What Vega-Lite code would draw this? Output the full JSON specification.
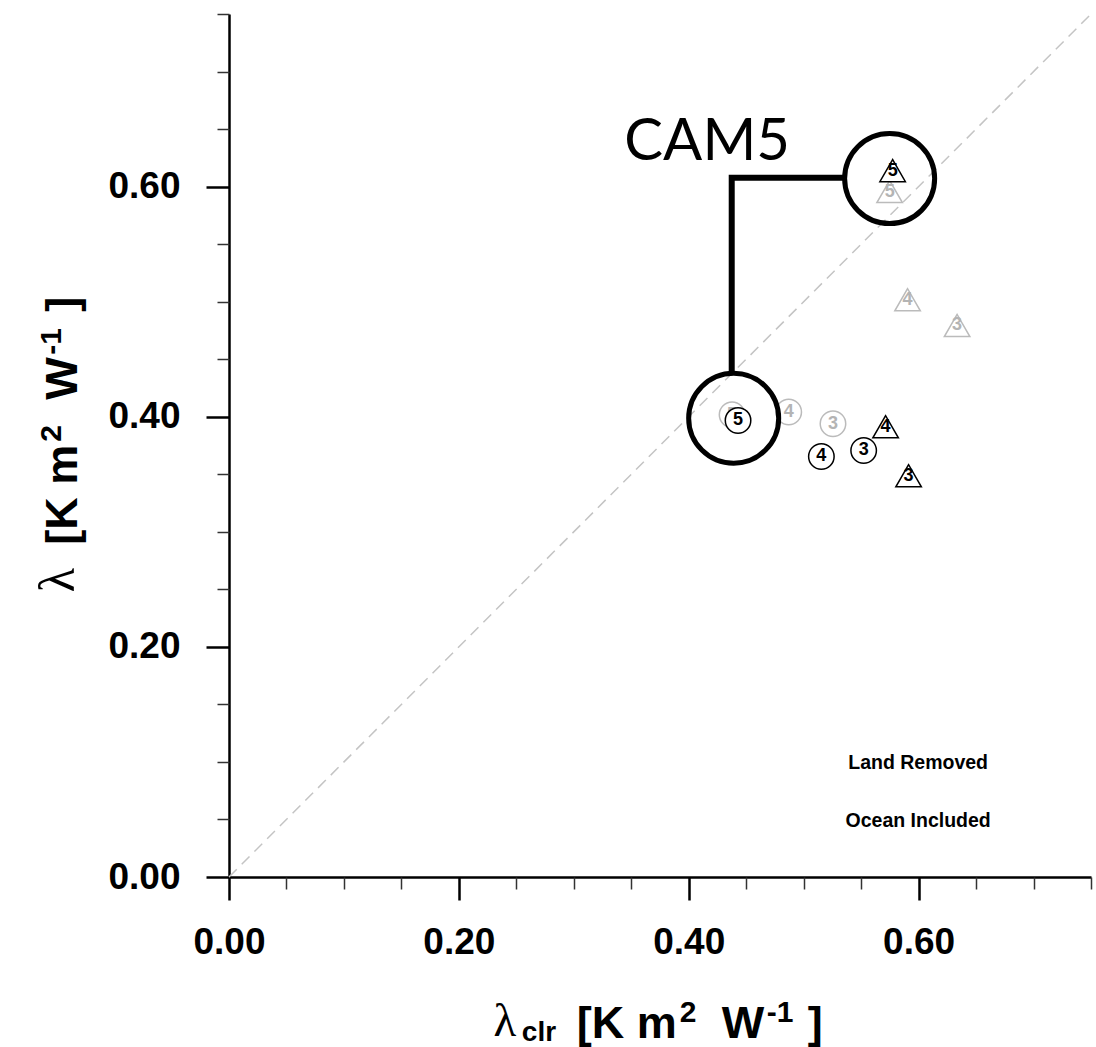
{
  "$schema": "https://vega.github.io/schema/vega-lite/v6.json",
  "width": 862,
  "height": 863,
  "autosize": {"type": "none"},
  "padding": {"left": 229, "top": 14, "right": 5, "bottom": 170},
  "background": "white",
  "config": {"view": {"stroke": null}, "axis": {"grid": false}},
  "datasets": {
    "diag": [{"x": 0, "y": 0}, {"x": 0.75, "y": 0.75}],
    "leader": [
      {"x": 0.4374, "y": 0.4391, "o": 1},
      {"x": 0.4374, "y": 0.6078, "o": 2},
      {"x": 0.5357, "y": 0.6078, "o": 3}
    ],
    "big": [{"x": 0.5748, "y": 0.607}, {"x": 0.4391, "y": 0.3987}],
    "pts": [
      {"set": "grey", "shape": "triangle-up", "label": "5", "x": 0.5748, "y": 0.5957},
      {"set": "grey", "shape": "triangle-up", "label": "4", "x": 0.5904, "y": 0.5017},
      {"set": "grey", "shape": "triangle-up", "label": "3", "x": 0.6335, "y": 0.4793},
      {"set": "grey", "shape": "circle", "label": "5", "x": 0.4377, "y": 0.4017},
      {"set": "grey", "shape": "circle", "label": "4", "x": 0.487, "y": 0.4041},
      {"set": "grey", "shape": "circle", "label": "3", "x": 0.5255, "y": 0.3939},
      {"set": "black", "shape": "triangle-up", "label": "5", "x": 0.5774, "y": 0.6139},
      {"set": "black", "shape": "triangle-up", "label": "4", "x": 0.5713, "y": 0.3913},
      {"set": "black", "shape": "triangle-up", "label": "3", "x": 0.5913, "y": 0.3487},
      {"set": "black", "shape": "circle", "label": "5", "x": 0.4429, "y": 0.3968},
      {"set": "black", "shape": "circle", "label": "4", "x": 0.5154, "y": 0.3655},
      {"set": "black", "shape": "circle", "label": "3", "x": 0.5522, "y": 0.3707}
    ],
    "xtitleMain": [
      {"t": "[K m", "x": 0.3026, "y": -0.14},
      {"t": "W", "x": 0.4287, "y": -0.14},
      {"t": "]", "x": 0.5035, "y": -0.14}
    ],
    "xtitleSup": [
      {"t": "2", "x": 0.3922, "y": -0.1261},
      {"t": "-1", "x": 0.4678, "y": -0.1261}
    ],
    "ytitleMain": [
      {"t": "[K m", "x": -0.132, "y": 0.2887},
      {"t": "W", "x": -0.132, "y": 0.4148},
      {"t": "]", "x": -0.132, "y": 0.4913}
    ],
    "ytitleSup": [
      {"t": "2", "x": -0.1461, "y": 0.3783},
      {"t": "-1", "x": -0.1461, "y": 0.4539}
    ]
  },
  "resolve": {"axis": {"x": "independent", "y": "independent"}},
  "layer": [
    {
      "data": {"name": "diag"},
      "mark": {"type": "line", "color": "#c4c4c4", "strokeWidth": 1.5, "strokeDash": [11, 7]},
      "encoding": {
        "x": {"field": "x", "type": "quantitative", "scale": {"domain": [0, 0.75], "nice": false, "zero": false},
          "axis": {"orient": "bottom", "values": [0, 0.2, 0.4, 0.6], "format": ".2f", "title": null, "tickSize": 23, "tickWidth": 2.5, "tickColor": "black", "domainColor": "black", "domainWidth": 2.5, "labelFont": "Liberation Sans", "labelFontSize": 37, "labelFontWeight": "bold", "labelColor": "black", "labelPadding": 24, "labelFlush": false, "labelOverlap": false, "grid": false}},
        "y": {"field": "y", "type": "quantitative", "scale": {"domain": [0, 0.75], "nice": false, "zero": false},
          "axis": {"orient": "left", "values": [0, 0.2, 0.4, 0.6], "format": ".2f", "title": null, "tickSize": 23, "tickWidth": 2.5, "tickColor": "black", "domainColor": "black", "domainWidth": 2.5, "labelFont": "Liberation Sans", "labelFontSize": 37, "labelFontWeight": "bold", "labelColor": "black", "labelPadding": 26, "labelFlush": false, "labelOverlap": false, "grid": false}}
      }
    },
    {
      "data": {"name": "leader"},
      "mark": {"type": "line", "color": "black", "strokeWidth": 6, "strokeJoin": "miter", "strokeCap": "butt"},
      "encoding": {
        "x": {"field": "x", "type": "quantitative",
          "axis": {"orient": "bottom", "values": [0.05, 0.1, 0.15, 0.25, 0.3, 0.35, 0.45, 0.5, 0.55, 0.65, 0.7, 0.75], "labels": false, "domain": false, "tickSize": 12, "tickWidth": 1.5, "tickColor": "#333333", "title": null, "grid": false}},
        "y": {"field": "y", "type": "quantitative",
          "axis": {"orient": "left", "values": [0.05, 0.1, 0.15, 0.25, 0.3, 0.35, 0.45, 0.5, 0.55, 0.65, 0.7, 0.75], "labels": false, "domain": false, "tickSize": 12, "tickWidth": 1.5, "tickColor": "#333333", "title": null, "grid": false}},
        "order": {"field": "o", "type": "quantitative"}
      }
    },
    {
      "data": {"name": "pts"},
      "transform": [{"filter": "datum.set === 'grey'"}],
      "mark": {"type": "point", "filled": false, "fill": "white", "fillOpacity": 1, "stroke": "#bbbbbb", "strokeWidth": 1.5, "size": 650, "opacity": 1},
      "encoding": {
        "x": {"field": "x", "type": "quantitative", "axis": null},
        "y": {"field": "y", "type": "quantitative", "axis": null},
        "shape": {"field": "shape", "type": "nominal", "scale": null, "legend": null}
      }
    },
    {
      "data": {"name": "pts"},
      "transform": [{"filter": "datum.set === 'grey'"}],
      "mark": {"type": "text", "color": "#b4b4b4", "font": "Liberation Sans", "fontSize": 18, "fontWeight": "bold", "align": "center", "baseline": "middle"},
      "encoding": {
        "x": {"field": "x", "type": "quantitative", "axis": null},
        "y": {"field": "y", "type": "quantitative", "axis": null},
        "text": {"field": "label", "type": "nominal"}
      }
    },
    {
      "data": {"name": "pts"},
      "transform": [{"filter": "datum.set === 'black'"}],
      "mark": {"type": "point", "filled": false, "fill": "white", "fillOpacity": 1, "stroke": "black", "strokeWidth": 1.5, "size": 650, "opacity": 1},
      "encoding": {
        "x": {"field": "x", "type": "quantitative", "axis": null},
        "y": {"field": "y", "type": "quantitative", "axis": null},
        "shape": {"field": "shape", "type": "nominal", "scale": null, "legend": null}
      }
    },
    {
      "data": {"name": "pts"},
      "transform": [{"filter": "datum.set === 'black'"}],
      "mark": {"type": "text", "color": "black", "font": "Liberation Sans", "fontSize": 18, "fontWeight": "bold", "align": "center", "baseline": "middle"},
      "encoding": {
        "x": {"field": "x", "type": "quantitative", "axis": null},
        "y": {"field": "y", "type": "quantitative", "axis": null},
        "text": {"field": "label", "type": "nominal"}
      }
    },
    {
      "data": {"name": "big"},
      "mark": {"type": "point", "shape": "circle", "filled": false, "stroke": "black", "strokeWidth": 5, "size": 8100, "opacity": 1},
      "encoding": {
        "x": {"field": "x", "type": "quantitative", "axis": null},
        "y": {"field": "y", "type": "quantitative", "axis": null}
      }
    },
    {
      "data": {"values": [{"t": "CAM5", "x": 0.416, "y": 0.6235}]},
      "mark": {"type": "text", "font": "Lato", "fontSize": 58, "color": "black", "align": "center", "baseline": "alphabetic"},
      "encoding": {
        "x": {"field": "x", "type": "quantitative", "axis": null},
        "y": {"field": "y", "type": "quantitative", "axis": null},
        "text": {"field": "t", "type": "nominal"}
      }
    },
    {
      "data": {"values": [{"t": "Land Removed", "x": 0.5996, "y": 0.0937}, {"t": "Ocean Included", "x": 0.5996, "y": 0.0432}]},
      "mark": {"type": "text", "font": "Liberation Sans", "fontSize": 19.5, "fontWeight": "bold", "color": "black", "align": "center", "baseline": "alphabetic"},
      "encoding": {
        "x": {"field": "x", "type": "quantitative", "axis": null},
        "y": {"field": "y", "type": "quantitative", "axis": null},
        "text": {"field": "t", "type": "nominal"}
      }
    },
    {
      "data": {"values": [{"t": "λ", "x": 0.24, "y": -0.1383}]},
      "mark": {"type": "text", "font": "Liberation Serif", "fontSize": 47, "color": "black", "align": "center", "baseline": "alphabetic"},
      "encoding": {
        "x": {"field": "x", "type": "quantitative", "axis": null},
        "y": {"field": "y", "type": "quantitative", "axis": null},
        "text": {"field": "t", "type": "nominal"}
      }
    },
    {
      "data": {"values": [{"t": "clr", "x": 0.2548, "y": -0.1426}]},
      "mark": {"type": "text", "font": "Liberation Sans", "fontSize": 28, "fontWeight": "bold", "color": "black", "align": "left", "baseline": "alphabetic"},
      "encoding": {
        "x": {"field": "x", "type": "quantitative", "axis": null},
        "y": {"field": "y", "type": "quantitative", "axis": null},
        "text": {"field": "t", "type": "nominal"}
      }
    },
    {
      "data": {"name": "xtitleMain"},
      "mark": {"type": "text", "font": "Liberation Sans", "fontSize": 45, "fontWeight": "bold", "color": "black", "align": "left", "baseline": "alphabetic"},
      "encoding": {
        "x": {"field": "x", "type": "quantitative", "axis": null},
        "y": {"field": "y", "type": "quantitative", "axis": null},
        "text": {"field": "t", "type": "nominal"}
      }
    },
    {
      "data": {"name": "xtitleSup"},
      "mark": {"type": "text", "font": "Liberation Sans", "fontSize": 30, "fontWeight": "bold", "color": "black", "align": "left", "baseline": "alphabetic"},
      "encoding": {
        "x": {"field": "x", "type": "quantitative", "axis": null},
        "y": {"field": "y", "type": "quantitative", "axis": null},
        "text": {"field": "t", "type": "nominal"}
      }
    },
    {
      "data": {"values": [{"t": "λ", "x": -0.1348, "y": 0.258}]},
      "mark": {"type": "text", "font": "Liberation Serif", "fontSize": 50, "color": "black", "align": "center", "baseline": "alphabetic", "angle": 270},
      "encoding": {
        "x": {"field": "x", "type": "quantitative", "axis": null},
        "y": {"field": "y", "type": "quantitative", "axis": null},
        "text": {"field": "t", "type": "nominal"}
      }
    },
    {
      "data": {"name": "ytitleMain"},
      "mark": {"type": "text", "font": "Liberation Sans", "fontSize": 45, "fontWeight": "bold", "color": "black", "align": "left", "baseline": "alphabetic", "angle": 270},
      "encoding": {
        "x": {"field": "x", "type": "quantitative", "axis": null},
        "y": {"field": "y", "type": "quantitative", "axis": null},
        "text": {"field": "t", "type": "nominal"}
      }
    },
    {
      "data": {"name": "ytitleSup"},
      "mark": {"type": "text", "font": "Liberation Sans", "fontSize": 30, "fontWeight": "bold", "color": "black", "align": "left", "baseline": "alphabetic", "angle": 270},
      "encoding": {
        "x": {"field": "x", "type": "quantitative", "axis": null},
        "y": {"field": "y", "type": "quantitative", "axis": null},
        "text": {"field": "t", "type": "nominal"}
      }
    }
  ]
}
